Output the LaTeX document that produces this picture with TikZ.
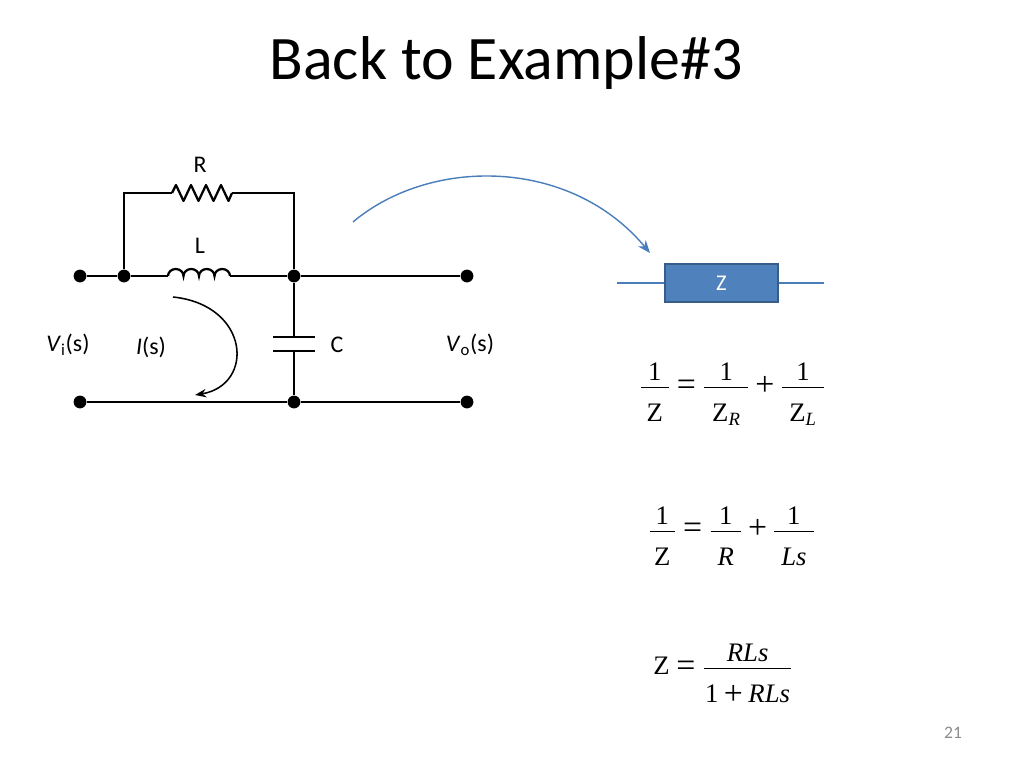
\documentclass[tikz,border=0pt]{standalone}
\usepackage[no-math]{fontspec}
\setmainfont{Carlito}
\newfontfamily\eqfont{Liberation Serif}
\usepackage{amsmath}
\usetikzlibrary{calc}
\usetikzlibrary{arrows.meta}
\definecolor{zblue}{HTML}{4F81BD}
\definecolor{zedge}{HTML}{385D8A}
\definecolor{arrowblue}{HTML}{4A7EBB}
\definecolor{pagegray}{HTML}{8C8C8C}

% Times-like letters and signs inside the equations
\newcommand{\er}[1]{\text{\eqfont #1}}
\newcommand{\ei}[1]{\text{\eqfont\itshape #1}}
\newcommand{\bigsign}[1]{\text{\raisebox{-1.2pt}{\eqfont\fontsize{24}{24}\selectfont #1}}}
\newcommand{\eqsign}{\mathrel{\bigsign{=}}}
\newcommand{\plussign}{\mathbin{\bigsign{+}}}
\newcommand{\numer}[1]{\smash[b]{\raisebox{-2.5pt}{#1}}}
\newcommand{\den}[2]{\hspace{#1}\rule{0pt}{21pt}#2\hspace{#1}}
\newcommand{\efrac}[2]{\genfrac{}{}{0.9pt}{0}{#1}{#2}}

\tikzset{
  wire/.style={line width=1.6pt},
  dot/.style={circle, fill=black, inner sep=0pt, minimum size=0.32cm},
  lbl/.style={font=\fontsize{17}{20}\selectfont},
  eqn/.style={font=\fontsize{19}{23}\selectfont, inner sep=0pt, anchor=west},
}

\begin{document}
\begin{tikzpicture}[x=0.025cm, y=-0.025cm]
        \useasboundingbox (0,0) rectangle (1024,768);%

        % Title
        \node [anchor=base] (title) at (506,80) {\fontsize{44}{50}\selectfont Back to Example\#3};%

        % Marking terminals and junctions by dots
        \node [dot] (vi1) at (80,276) {};%
        \node [dot] (vi2) at (80,402) {};%
        \node [dot] (j1) at (124,276) {};%
        \node [dot] (j2) at (294,276) {};%
        \node [dot] (j3) at (294,402) {};%
        \node [dot] (vo1) at (467,276) {};%
        \node [dot] (vo2) at (467,402) {};%

        % End points of R, L and C
        \coordinate (rin) at (172,193);%
        \coordinate (rout) at (232,193);%
        \coordinate (lin) at (168,276);%
        \coordinate (lout) at (230,276);%
        \coordinate (ctop) at (294,337);%
        \coordinate (cbot) at (294,351);%

        % Drawing wires
        \draw [wire] (vi1) -- (j1) -- (lin);%
        \draw [wire] (lout) -- (j2) -- (vo1);%
        \draw [wire] (vi2) -- (j3) -- (vo2);%
        \draw [wire] (j1) |- (rin);%
        \draw [wire] (rout) -| (j2);%
        \draw [wire] (j2) -- (ctop);%
        \draw [wire] (cbot) -- (j3);%

        % Drawing resistor R
        \draw [wire, line join=round] (rin) -- ++(4,-8)
            \foreach \k in {1,...,3} { -- ++(7.5,16) -- ++(7.5,-16) }
            -- ++(7.5,16) -- (rout);%

        % Drawing inductor L
        \draw [wire] (lin) \foreach \k in {1,...,4} {
            arc [start angle=180, end angle=360, x radius=7.75, y radius=7] };%

        % Drawing capacitor C
        \draw [wire] ($(ctop)+(-21,0)$) -- ($(ctop)+(21,0)$);%
        \draw [wire] ($(cbot)+(-21,0)$) -- ($(cbot)+(21,0)$);%

        % Labels of the circuit
        \node [lbl] (rlbl) at (200,165) {R};%
        \node [lbl] (llbl) at (200,246) {L};%
        \node [lbl] (clbl) at (337,345) {C};%
        \node [lbl] (vilbl) at (68,345) {\textit{V}\textsubscript{i}(s)};%
        \node [lbl] (ilbl) at (151,347) {\textit{I}(s)};%
        \node [lbl] (volbl) at (470,345) {\textit{V}\textsubscript{o}(s)};%

        % Drawing current arrow
        \coordinate (istart) at (173,297);%
        \coordinate (iend) at (195,395);%
        \draw [line width=1.1pt, -{Stealth[length=8pt,width=6pt]}] (istart) .. controls (250,305) and (255,385) .. (iend);%

        % Drawing blue arrow to the block
        \coordinate (astart) at (353,222);%
        \coordinate (aend) at (650,253);%
        \draw [arrowblue, line width=1pt, -{Stealth[length=9pt,width=7pt]}] (astart) .. controls (430,157) and (570,157) .. (aend);%

        % Drawing block Z
        \node [draw=zedge, fill=zblue, line width=1.5pt, minimum width=2.83cm, minimum height=0.96cm,
               text=white, font=\fontsize{16}{19}\selectfont] (zbox) at (721.5,283) {Z};%
        \coordinate (zin) at (617,283);%
        \coordinate (zout) at (824,283);%
        \draw [arrowblue, line width=0.8pt] (zin) -- (zbox);%
        \draw [arrowblue, line width=0.8pt] (zbox) -- (zout);%

        % Equations
        \node [eqn] (eqa) at (639,394) {$\efrac{\numer{\er{1}}}{\den{4pt}{\er{Z}}} \eqsign \efrac{\numer{\er{1}}}{\den{5.5pt}{\er{Z}_{\ei{R}}}} \plussign \efrac{\numer{\er{1}}}{\den{5.5pt}{\er{Z}_{\ei{L}}}}$};%
        \node [eqn] (eqb) at (648,536) {$\efrac{\numer{\er{1}}}{\den{3pt}{\er{Z}}} \eqsign \efrac{\numer{\er{1}}}{\den{5pt}{\ei{R}}} \plussign \efrac{\numer{\er{1}}}{\den{5pt}{\ei{Ls}}}$};%
        \node [eqn] (eqc) at (653,674) {$\er{Z} \eqsign \efrac{\numer{\ei{RLs}}}{\den{1pt}{\er{1}\plussign\ei{RLs}}}$};%

        % Page number
        \node [text=pagegray, font=\fontsize{12.5}{15}\selectfont] (pnum) at (953,733) {21};%
\end{tikzpicture}
\end{document}
